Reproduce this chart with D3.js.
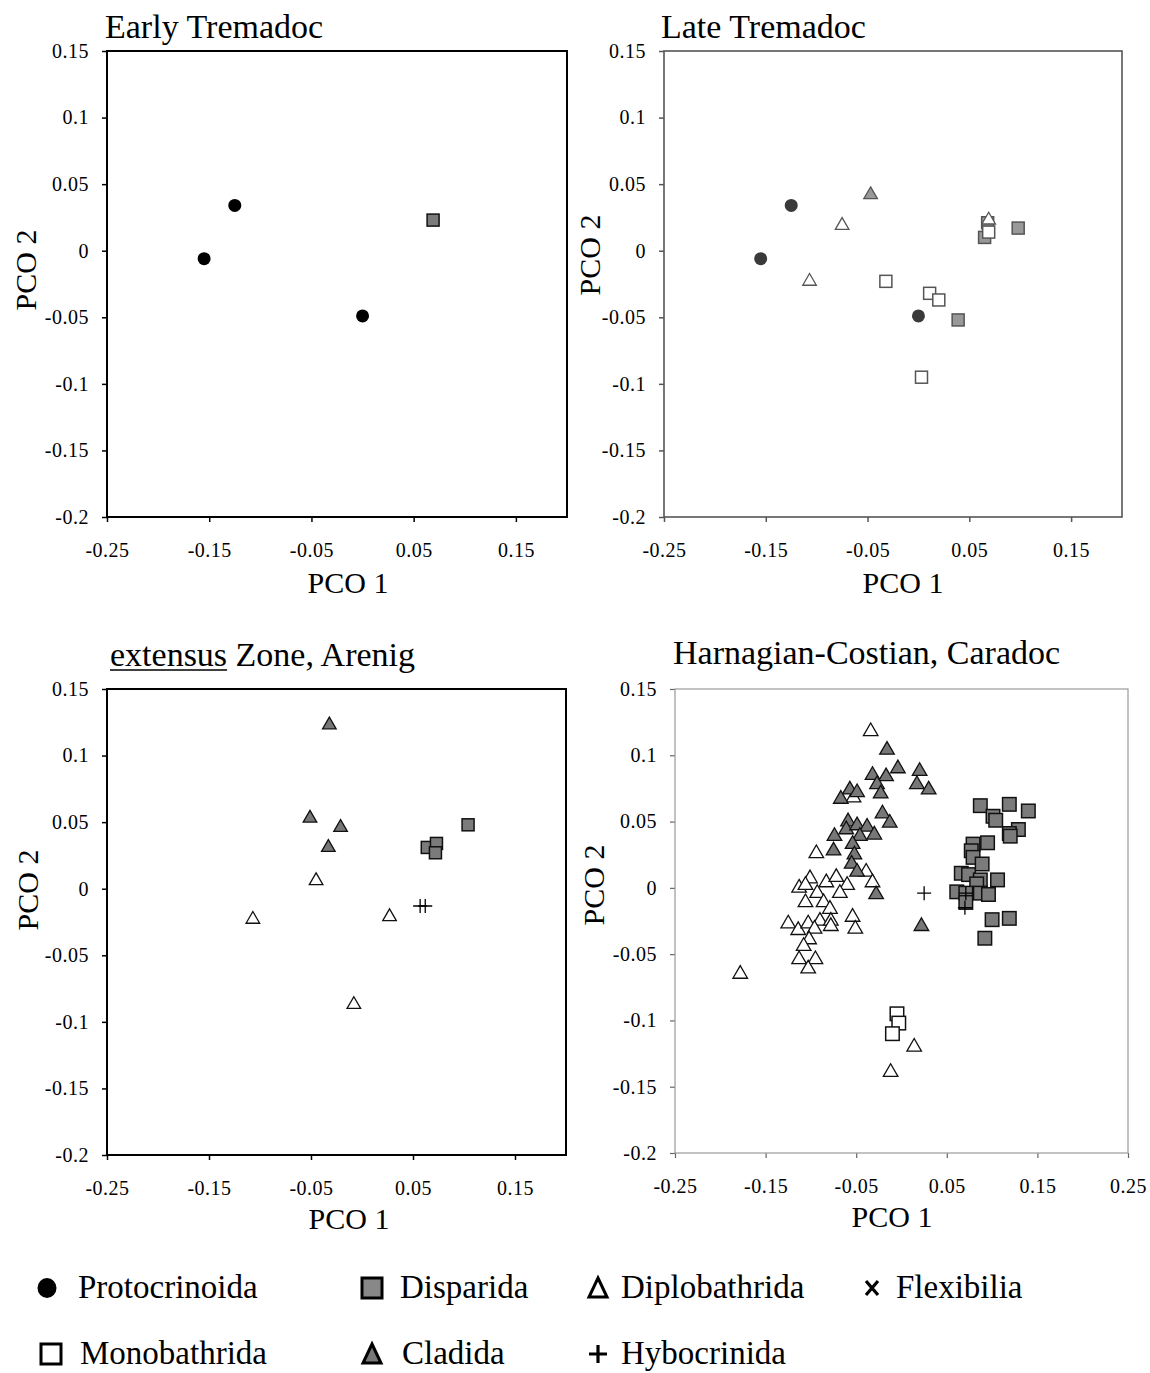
<!DOCTYPE html>
<html>
<head>
<meta charset="utf-8">
<script src="https://cdn.jsdelivr.net/npm/d3@7"></script>
<style>
    body { margin: 0; background: #fff; }
    text { font-family: "Liberation Serif", "Times New Roman", serif; fill: #000; }
</style>
</head>
<body>
<script>
// tick values
const xTicks = [-0.25, -0.15, -0.05, 0.05, 0.15];
const xTicksWide = [-0.25, -0.15, -0.05, 0.05, 0.15, 0.25];
const yTicks = [0.15, 0.1, 0.05, 0, -0.05, -0.1, -0.15, -0.2];

// Early Tremadoc
const earlyProto = [[-0.125, 0.034], [-0.155, -0.006], [0.0, -0.049]];
const earlyDisp = [[0.069, 0.023]];

// Late Tremadoc
const lateDisp = [[0.039, -0.052], [0.065, 0.010], [0.068, 0.021], [0.098, 0.017]];
const lateMono = [[-0.032, -0.023], [0.011, -0.032], [0.020, -0.037], [0.003, -0.095], [0.069, 0.014]];
const lateDiplo = [[-0.075, 0.019], [-0.107, -0.023], [0.069, 0.023]];
const lateClad = [[-0.047, 0.042]];
const lateProto = [[-0.125, 0.034], [-0.155, -0.006], [0.0, -0.049]];

// extensus Zone, Arenig
const arenClad = [[-0.032, 0.123], [-0.051, 0.053], [-0.021, 0.046], [-0.033, 0.031]];
const arenDiplo = [[-0.045, 0.006], [-0.107, -0.023], [0.027, -0.021], [-0.008, -0.087]];
const arenDisp = [[0.064, 0.031], [0.073, 0.034], [0.072, 0.027], [0.104, 0.048]];
const arenHybo = [[0.057, -0.013], [0.062, -0.013]];

// Harnagian-Costian, Caradoc
const caraDiplo = [
    [-0.034, 0.118], [-0.053, 0.068], [-0.094, 0.026], [-0.039, 0.012], [-0.032, 0.004],
    [-0.101, 0.007], [-0.113, 0.0], [-0.106, 0.002], [-0.083, 0.004], [-0.072, 0.008],
    [-0.060, 0.002], [-0.068, -0.004], [-0.093, -0.004], [-0.106, -0.011], [-0.086, -0.011],
    [-0.079, -0.016], [-0.090, -0.025], [-0.078, -0.025], [-0.078, -0.029], [-0.054, -0.022],
    [-0.051, -0.031], [-0.125, -0.027], [-0.114, -0.032], [-0.103, -0.027], [-0.096, -0.031],
    [-0.102, -0.039], [-0.108, -0.044], [-0.113, -0.054], [-0.095, -0.054], [-0.103, -0.061],
    [-0.178, -0.065], [0.014, -0.120], [-0.012, -0.139]
];
const caraClad = [
    [-0.016, 0.104], [-0.004, 0.090], [-0.032, 0.085], [-0.017, 0.084], [0.020, 0.088],
    [0.017, 0.078], [0.030, 0.074], [-0.027, 0.078], [-0.023, 0.071], [-0.057, 0.074],
    [-0.049, 0.072], [-0.067, 0.067], [-0.021, 0.056], [-0.013, 0.049], [-0.059, 0.050],
    [-0.061, 0.044], [-0.049, 0.047], [-0.038, 0.046], [-0.030, 0.040], [-0.074, 0.039],
    [-0.046, 0.039], [-0.054, 0.033], [-0.075, 0.028], [-0.052, 0.025], [-0.055, 0.018],
    [-0.049, 0.012], [-0.028, -0.005], [0.022, -0.029]
];
const caraDisp = [
    [0.087, 0.062], [0.119, 0.063], [0.140, 0.058], [0.101, 0.054], [0.104, 0.051],
    [0.129, 0.044], [0.119, 0.041], [0.120, 0.039], [0.095, 0.034], [0.079, 0.033],
    [0.077, 0.028], [0.079, 0.023], [0.089, 0.018], [0.066, 0.011], [0.074, 0.010],
    [0.087, 0.006], [0.106, 0.006], [0.083, 0.003], [0.061, -0.003], [0.071, -0.004],
    [0.087, -0.004], [0.096, -0.005], [0.071, -0.011], [0.100, -0.024], [0.119, -0.023],
    [0.092, -0.038]
];
const caraMono = [[-0.005, -0.095], [-0.003, -0.102], [-0.010, -0.110]];
const caraHybo = [[0.025, -0.004], [0.071, -0.004], [0.070, -0.015]];

// legend
const legendRows = [
    [['circle', 'Protocrinoida'], ['graySquare', 'Disparida'], ['whiteTri', 'Diplobathrida'], ['cross', 'Flexibilia']],
    [['whiteSquare', 'Monobathrida'], ['grayTri', 'Cladida'], ['plus', 'Hybocrinida']]
];

const panels = [
    {
        title: 'Early Tremadoc', titleX: 105, titleY: 38,
        box: [107, 51, 460, 466], xMax: 0.2, xTicks: xTicks,
        frame: '#000', frameW: 2, tickColor: '#000', ink: 'dark',
        pco1: [348, 593], pco2: [25, 270],
        groups: [[earlyProto, 'circle'], [earlyDisp, 'graySquare']]
    },
    {
        title: 'Late Tremadoc', titleX: 661, titleY: 38,
        box: [664, 51, 458, 466], xMax: 0.2, xTicks: xTicks,
        frame: '#555', frameW: 1.6, tickColor: '#555', ink: 'soft',
        pco1: [903, 593], pco2: [589, 255],
        groups: [[lateDisp, 'graySquare'], [lateMono, 'whiteSquare'], [lateDiplo, 'whiteTri'],
            [lateClad, 'grayTri'], [lateProto, 'circle']]
    },
    {
        title: 'extensus Zone, Arenig', titleX: 110, titleY: 666, underline: 'extensus',
        box: [107, 689, 459, 466], xMax: 0.2, xTicks: xTicks,
        frame: '#000', frameW: 2, tickColor: '#000', ink: 'dark',
        pco1: [349, 1229], pco2: [27, 890],
        groups: [[arenClad, 'grayTri'], [arenDiplo, 'whiteTri'], [arenDisp, 'graySquare'], [arenHybo, 'plus']]
    },
    {
        title: 'Harnagian-Costian, Caradoc', titleX: 673, titleY: 664,
        box: [675, 689, 453, 464], xMax: 0.25, xTicks: xTicksWide,
        frame: '#9a9a9a', frameW: 1.2, tickColor: '#666', ink: 'dark', big: true,
        pco1: [892, 1227], pco2: [593, 885],
        groups: [[caraDiplo, 'whiteTri'], [caraClad, 'grayTri'], [caraDisp, 'graySquare'],
            [caraMono, 'whiteSquare'], [caraHybo, 'plus']]
    }
];

const svg = d3.select('body').append('svg')
    .attr('width', 1150)
    .attr('height', 1373);

const fmt = d => String(+d.toFixed(2));

function drawMarker(g, kind, x, y, opt) {
    const soft = opt.ink === 'soft';
    const sq = opt.big ? 13.5 : 12;
    const tri = opt.big ? 92 : 80;
    const edge = soft ? '#555' : '#111';
    if (kind === 'circle') {
        g.append('circle').attr('cx', x).attr('cy', y).attr('r', 6.5)
            .attr('fill', soft ? '#3a3a3a' : '#000');
    } else if (kind === 'graySquare' || kind === 'whiteSquare') {
        g.append('rect')
            .attr('x', x - sq / 2).attr('y', y - sq / 2)
            .attr('width', sq).attr('height', sq)
            .attr('fill', kind === 'graySquare' ? (soft ? '#999' : '#7b7b7b') : '#fff')
            .attr('stroke', edge).attr('stroke-width', 1.5);
    } else if (kind === 'grayTri' || kind === 'whiteTri') {
        g.append('path')
            .attr('transform', `translate(${x},${y})`)
            .attr('d', d3.symbol().type(d3.symbolTriangle).size(tri)())
            .attr('fill', kind === 'grayTri' ? (soft ? '#999' : '#777') : '#fff')
            .attr('stroke', edge).attr('stroke-width', 1.3)
            .attr('stroke-linejoin', 'miter');
    } else if (kind === 'plus') {
        g.append('path')
            .attr('d', `M${x - 7},${y}H${x + 7}M${x},${y - 7}V${y + 7}`)
            .attr('stroke', '#000').attr('stroke-width', 1.3).attr('fill', 'none');
    }
}

panels.forEach(p => {
    const [bx, by, bw, bh] = p.box;
    const x = d3.scaleLinear().domain([-0.25, p.xMax]).range([bx, bx + bw]);
    const y = d3.scaleLinear().domain([-0.2, 0.15]).range([by + bh, by]);
    const g = svg.append('g');

    // axes
    const gx = g.append('g')
        .attr('transform', `translate(0,${by + bh})`)
        .call(d3.axisBottom(x).tickValues(p.xTicks).tickFormat(fmt).tickSize(5).tickPadding(21));
    const gy = g.append('g')
        .attr('transform', `translate(${bx},0)`)
        .call(d3.axisLeft(y).tickValues(yTicks).tickFormat(fmt).tickSize(5).tickPadding(13));
    [gx, gy].forEach(a => {
        a.select('.domain').remove();
        a.selectAll('line').attr('stroke', p.tickColor).attr('stroke-width', p.frameW > 1.5 ? 1.5 : 1.2);
        a.selectAll('text')
            .attr('fill', p.ink === 'soft' ? '#333' : '#000')
            .style('font-family', '"Liberation Serif", "Times New Roman", serif')
            .style('font-size', '20px')
            .style('letter-spacing', '0.5px');
    });

    g.append('rect')
        .attr('x', bx).attr('y', by).attr('width', bw).attr('height', bh)
        .attr('fill', 'none').attr('stroke', p.frame).attr('stroke-width', p.frameW);

    // title
    const t = g.append('text')
        .attr('x', p.titleX).attr('y', p.titleY)
        .style('font-size', '34px')
        .text(p.title);
    if (p.underline) {
        const w = t.node().getSubStringLength(0, p.underline.length);
        g.append('line')
            .attr('x1', p.titleX).attr('x2', p.titleX + w)
            .attr('y1', p.titleY + 4).attr('y2', p.titleY + 4)
            .attr('stroke', '#000').attr('stroke-width', 1.6);
    }

    g.append('text')
        .attr('x', p.pco1[0]).attr('y', p.pco1[1])
        .attr('text-anchor', 'middle')
        .style('font-size', '30px')
        .text('PCO 1');
    g.append('text')
        .attr('transform', `translate(${p.pco2[0]},${p.pco2[1]}) rotate(-90)`)
        .attr('text-anchor', 'middle')
        .attr('dy', '0.35em')
        .style('font-size', '30px')
        .text('PCO 2');

    // points
    const pts = g.append('g');
    p.groups.forEach(([data, kind]) => {
        data.forEach(d => drawMarker(pts, kind, x(d[0]), y(d[1]), p));
    });
});

// legend
const legendX = [[47, 78], [372, 400], [598, 621], [872, 896]];
const legendY = [1288, 1354];
const lg = svg.append('g');
legendRows.forEach((row, ri) => {
    row.forEach(([kind, label], ci) => {
        const cx = legendX[ci][0] + (ri === 1 && ci === 0 ? 4 : 0);
        const cy = legendY[ri];
        if (kind === 'circle') {
            lg.append('ellipse').attr('cx', cx).attr('cy', cy).attr('rx', 9.5).attr('ry', 10).attr('fill', '#000');
        } else if (kind === 'graySquare' || kind === 'whiteSquare') {
            lg.append('rect').attr('x', cx - 10).attr('y', cy - 10).attr('width', 20).attr('height', 20)
                .attr('fill', kind === 'graySquare' ? '#888' : '#fff')
                .attr('stroke', '#000').attr('stroke-width', 3);
        } else if (kind === 'whiteTri' || kind === 'grayTri') {
            lg.append('path')
                .attr('d', `M${cx},${cy - 10}L${cx + 9},${cy + 9}L${cx - 9},${cy + 9}Z`)
                .attr('fill', kind === 'grayTri' ? '#777' : '#fff')
                .attr('stroke', '#000').attr('stroke-width', 3).attr('stroke-linejoin', 'miter');
        } else if (kind === 'cross') {
            lg.append('path')
                .attr('d', `M${cx - 6},${cy - 7}L${cx + 6},${cy + 7}M${cx + 6},${cy - 7}L${cx - 6},${cy + 7}`)
                .attr('stroke', '#000').attr('stroke-width', 3.2);
        } else if (kind === 'plus') {
            lg.append('path')
                .attr('d', `M${cx - 9},${cy}H${cx + 9}M${cx},${cy - 9}V${cy + 9}`)
                .attr('stroke', '#000').attr('stroke-width', 3.2);
        }
        lg.append('text')
            .attr('x', legendX[ci][1] + (ri === 1 && ci < 2 ? 2 : 0))
            .attr('y', cy + 10)
            .style('font-size', '33px')
            .text(label);
    });
});
</script>
</body>
</html>
